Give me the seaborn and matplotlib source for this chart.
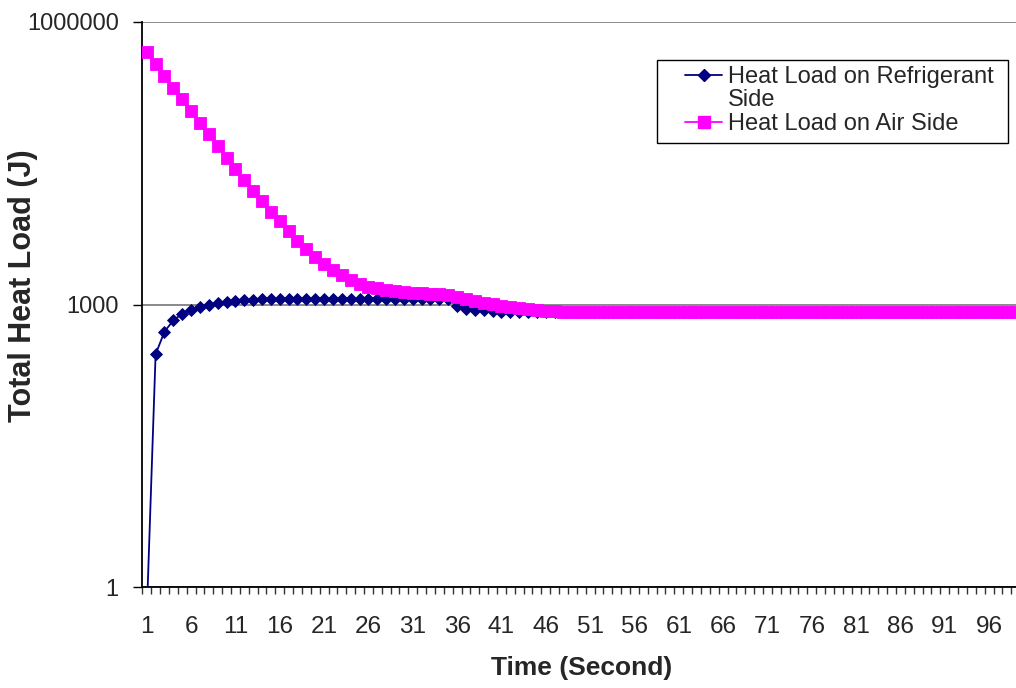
import numpy as np
import pandas as pd
import matplotlib
matplotlib.use("Agg")
import matplotlib.pyplot as plt
from matplotlib.lines import Line2D
from matplotlib.patches import Rectangle
from matplotlib.ticker import FixedLocator, NullLocator
import seaborn as sns

# Time steps (seconds)
time_s = list(range(1, 101))

# Total heat load on the refrigerant side (J)
refrigerant_load = [
    0.5, 297, 517, 682, 799, 881, 944, 988, 1033, 1064,
    1089, 1111, 1125, 1138, 1143, 1153, 1156, 1158, 1158, 1158,
    1158, 1158, 1158, 1158, 1158, 1158, 1158, 1158, 1158, 1158,
    1158, 1158, 1158, 1157, 1156, 959, 898, 885, 871, 856,
    844, 838, 836, 835, 835, 835, 835, 835, 835, 835,
    835, 835, 835, 835, 835, 835, 835, 835, 835, 835,
    835, 835, 835, 835, 835, 835, 835, 835, 835, 835,
    835, 835, 835, 835, 835, 835, 835, 835, 835, 835,
    835, 835, 835, 835, 835, 835, 835, 835, 835, 835,
    835, 835, 835, 835, 835, 835, 835, 835, 835, 835,
]

# Total heat load on the air side (J)
air_load = [
    479000, 357000, 266600, 201300, 152100, 113500, 85700, 64700, 48300, 36450,
    27540, 21050, 16100, 12600, 9640, 7640, 5980, 4750, 3905, 3175,
    2710, 2310, 2047, 1833, 1642, 1545, 1490, 1436, 1400, 1367,
    1334, 1318, 1302, 1286, 1255, 1196, 1138, 1084, 1045, 1008,
    971, 936, 914, 892, 871, 860, 849, 842, 840, 840,
    840, 840, 840, 840, 840, 840, 840, 840, 840, 840,
    840, 840, 840, 840, 840, 840, 840, 840, 840, 840,
    840, 840, 840, 840, 840, 840, 840, 840, 840, 840,
    840, 840, 840, 840, 840, 840, 840, 840, 840, 840,
    840, 840, 840, 840, 840, 840, 840, 840, 840, 840,
]

y_tick_values = [1, 1000, 1000000]
y_tick_labels = ["1", "1000", "1000000"]
x_tick_values = list(range(1, 100, 5))
legend_labels = ["Heat Load on Refrigerant", "Side", "Heat Load on Air Side"]

sns.set_style("white")
plt.rcParams["font.family"] = ["Liberation Sans", "DejaVu Sans"]

W, H = 1016, 688
fig = plt.figure(figsize=(W / 100, H / 100), dpi=100)
# plot area in pixels: axis at x=142, y from 587 (value 1) to 22 (value 1e6);
# 100 categories, the last few run past the right edge of the canvas
left_px, right_px, top_px, bot_px = 142.3, 1029.0, 22.0, 587.3
ax = fig.add_axes([left_px / W, 1 - bot_px / H,
                   (right_px - left_px) / W, (bot_px - top_px) / H])

NAVY = "#000080"
MAGENTA = "#FF00FF"

ref_df = pd.DataFrame({"Time": time_s, "Load": refrigerant_load})
air_df = pd.DataFrame({"Time": time_s, "Load": air_load})

sns.lineplot(data=ref_df, x="Time", y="Load", ax=ax, color=NAVY,
             marker="D", markersize=6.2, markeredgecolor=NAVY,
             markeredgewidth=0.6, linewidth=1.3, zorder=3)
sns.lineplot(data=air_df, x="Time", y="Load", ax=ax, color=MAGENTA,
             marker="s", markersize=8.6, markeredgecolor=MAGENTA,
             markeredgewidth=0.6, linewidth=1.3, zorder=4)

ax.set_yscale("log")
ax.set_ylim(1, 1000000)
ax.set_xlim(0.5, 100.5)

ax.yaxis.set_major_locator(FixedLocator(y_tick_values))
ax.yaxis.set_minor_locator(NullLocator())
ax.set_yticklabels(y_tick_labels)
ax.tick_params(axis="y", which="major", left=True, direction="out",
               length=6.5, width=1.0, color="black", pad=10.5, labelsize=17)

ax.xaxis.set_major_locator(FixedLocator(x_tick_values))
ax.set_xticklabels([str(v) for v in x_tick_values])
ax.xaxis.set_minor_locator(FixedLocator(np.arange(0.5, 101, 1.0)))
ax.tick_params(axis="x", which="major", bottom=True, length=0, pad=21,
               labelsize=17.5)
ax.tick_params(axis="x", which="minor", bottom=True, direction="out",
               length=5, width=1.0, color="#333333")

ax.grid(axis="y", which="major", color="#808080", linewidth=1.3)
ax.grid(axis="x", visible=False)
for side in ("top", "right"):
    ax.spines[side].set_visible(False)
for side in ("left", "bottom"):
    ax.spines[side].set_color("black")
    ax.spines[side].set_linewidth(1.3)
ax.set_axisbelow(True)

ax.set_xlabel("")
ax.set_ylabel("")
fig.text(582 / W, 1 - 668 / H, "Time (Second)", ha="center", va="center",
         fontsize=19, fontweight="bold")
fig.text(23 / W, 1 - 286 / H, "Total Heat Load (J)", ha="center",
         va="center", rotation=90, fontsize=22, fontweight="bold")

# legend frame, drawn separately so the entries can sit tight inside it
frame = Rectangle((657 / W, 1 - 143 / H), (1008 - 657) / W, (143 - 60) / H,
                  transform=fig.transFigure, facecolor="white",
                  edgecolor="black", linewidth=1.0, clip_on=False, zorder=4.5)
ax.add_patch(frame)

handles = [
    Line2D([], [], color=NAVY, marker="D", markersize=6.2, linewidth=1.3,
           markeredgecolor=NAVY),
    Line2D([], [], color="none"),
    Line2D([], [], color=MAGENTA, marker="s", markersize=8.6, linewidth=1.3,
           markeredgecolor=MAGENTA),
]
leg = ax.legend(handles, legend_labels, loc="upper left",
                bbox_to_anchor=(685 / W, 1 - 66 / H),
                bbox_transform=fig.transFigure, borderaxespad=0,
                borderpad=0, frameon=False, fontsize=17,
                labelspacing=0.06, handlelength=1.57, handletextpad=0.25)
leg.set_zorder(5)

fig.savefig("out.png", dpi=100)
